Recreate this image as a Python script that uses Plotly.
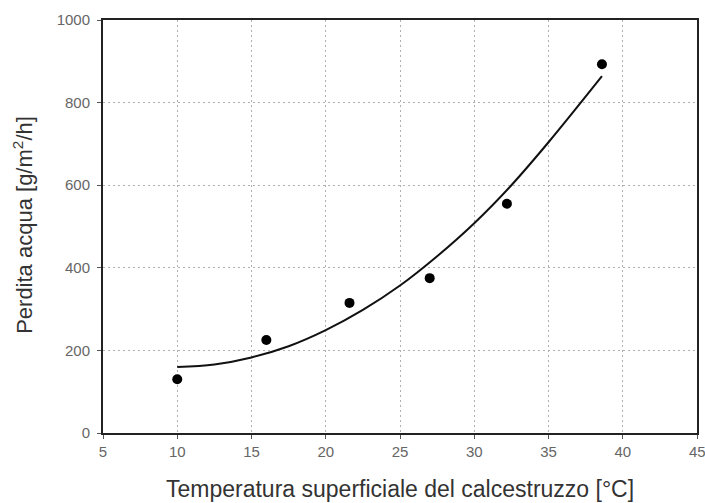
import plotly.graph_objects as go

temp_c = [10.0, 16.0, 21.6, 27.0, 32.2, 38.6]
water_loss = [130, 225, 315, 375, 555, 893]

trend_x = [10, 12.5, 15, 17.5, 20, 22.5, 25, 27.5, 30, 32.5, 35, 38.6]
trend_y = [160, 166, 183, 210, 249, 298, 357, 428, 508, 600, 704, 864]

x_ticks = [5, 10, 15, 20, 25, 30, 35, 40, 45]
y_ticks = [0, 200, 400, 600, 800, 1000]

FONT = "Liberation Sans, Arial, sans-serif"

fig = go.Figure()
fig.add_trace(go.Scatter(x=trend_x, y=trend_y, mode="lines",
                         line=dict(color="#111111", width=2, shape="spline", smoothing=1),
                         hoverinfo="skip", showlegend=False))
fig.add_trace(go.Scatter(x=temp_c, y=water_loss, mode="markers",
                         marker=dict(color="#000000", size=10),
                         showlegend=False))

axis_common = dict(
    showline=True, linecolor="#222222", linewidth=2, mirror=True,
    ticks="outside", ticklen=4, tickcolor="#555555", tickwidth=1,
    showgrid=True, gridcolor="#b0b0b0", griddash="2px,3px", gridwidth=1,
    zeroline=False, automargin=False,
    tickfont=dict(family=FONT, size=15, color="#666666"),
)

fig.update_xaxes(range=[5, 45], tickvals=x_ticks, ticktext=[str(v) for v in x_ticks],
                 **axis_common)
fig.update_yaxes(range=[0, 1000], tickvals=y_ticks, ticktext=[str(v) for v in y_ticks],
                 ticklabelstandoff=4, **axis_common)

# last x tick label, partly cut by the right edge as in the reference
fig.add_annotation(text=str(x_ticks[-1]), xref="x", yref="paper", x=x_ticks[-1], y=0,
                   xanchor="center", yanchor="top", yshift=-8, showarrow=False,
                   font=dict(family=FONT, size=15, color="#666666"))

fig.add_annotation(text="Temperatura superficiale del calcestruzzo [°C]",
                   xref="paper", yref="paper", x=0.5, y=0,
                   xanchor="center", yanchor="middle", yshift=-56,
                   showarrow=False,
                   font=dict(family=FONT, size=23, color="#333333"))
fig.add_annotation(text="Perdita acqua [g/m<sup>2</sup>/h]",
                   xref="paper", yref="paper", x=0, y=0.504,
                   xanchor="center", yanchor="middle", xshift=-80,
                   textangle=-90, showarrow=False,
                   font=dict(family=FONT, size=22, color="#333333"))

fig.update_layout(
    width=705, height=503,
    margin=dict(l=103, r=8, t=20, b=70),
    paper_bgcolor="white", plot_bgcolor="white",
    font=dict(family=FONT),
)

fig.write_html("out.html", config={"displayModeBar": False},
               post_script="document.body.style.margin='0';document.body.style.overflow='hidden';")
